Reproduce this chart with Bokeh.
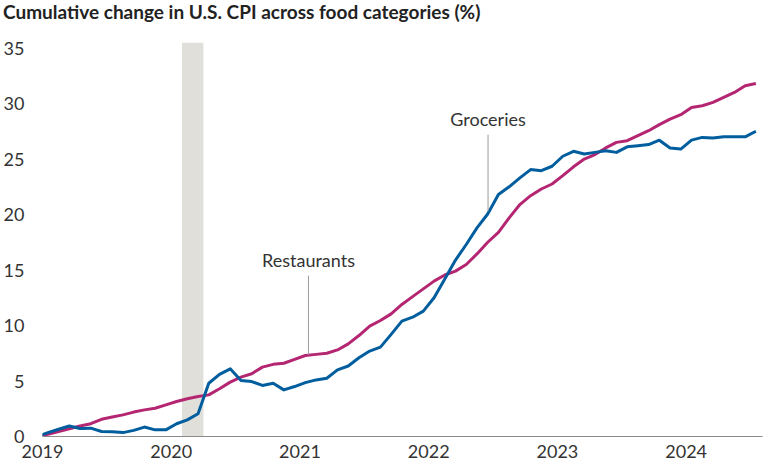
import pandas as pd
from bokeh.plotting import figure
from bokeh.layouts import column
from bokeh.models import BoxAnnotation, Label, FixedTicker, Range1d, Div
from bokeh.embed import file_html
from bokeh.resources import INLINE

# Monthly data, Dec 2018 (baseline) .. Jul 2024, cumulative % change
months = pd.date_range("2018-12-01", "2024-07-01", freq="MS")
groceries = [
    0, 0.35, 0.65, 0.95, 0.72, 0.75, 0.45, 0.42, 0.35, 0.55, 0.85, 0.6, 0.6,
    1.15, 1.5, 2.05, 4.8, 5.6, 6.1, 5.05, 4.95, 4.6, 4.8, 4.2, 4.5,
    4.85, 5.1, 5.25, 6.0, 6.35, 7.1, 7.7, 8.05, 9.2, 10.4, 10.75, 11.3,
    12.5, 14.2, 15.9, 17.3, 18.8, 20.05, 21.8, 22.5, 23.3, 24.05, 23.95, 24.35,
    25.25, 25.7, 25.45, 25.6, 25.75, 25.6, 26.1, 26.2, 26.3, 26.7, 26.0, 25.9,
    26.7, 26.95, 26.9, 27.0, 27.0, 27.0, 27.5,
]
restaurants = [
    0, 0.2, 0.45, 0.7, 0.95, 1.15, 1.55, 1.75, 1.95, 2.2, 2.4, 2.55, 2.85,
    3.15, 3.4, 3.6, 3.75, 4.3, 4.9, 5.35, 5.65, 6.25, 6.5, 6.6, 6.95,
    7.3, 7.4, 7.5, 7.8, 8.35, 9.1, 9.95, 10.45, 11.05, 11.9, 12.6, 13.3,
    14.0, 14.55, 14.9, 15.5, 16.45, 17.5, 18.4, 19.7, 20.9, 21.7, 22.3, 22.75,
    23.5, 24.3, 25.0, 25.4, 26.0, 26.5, 26.65, 27.1, 27.55, 28.1, 28.6, 29.0,
    29.65, 29.8, 30.1, 30.55, 31.0, 31.6, 31.8,
]
year_ticks = [2019, 2020, 2021, 2022, 2023, 2024]
y_ticks = [0, 5, 10, 15, 20, 25, 30, 35]
recession_start = "2020-02-01"
recession_end = "2020-04-01"
title_text = "Cumulative change in U.S. CPI across food categories (%)"

def frac_year(ts):
    return ts.year + (ts.month - 1) / 12.0

x = [m.year + (m.month - 0.5) / 12.0 for m in months]

FONT = "Lato"
BLUE = "#005E9E"
MAGENTA = "#B52672"
TEXT = "#333333"

W, H = 767, 466
TITLE_H = 26

title = Div(text=title_text, width=W, height=TITLE_H, margin=0,
            styles={"font-family": "Lato", "font-size": "19px",
                    "font-weight": "bold", "color": "#222222",
                    "line-height": "24px", "padding-left": "3px",
                    "white-space": "nowrap"})

p = figure(width=W, height=H - TITLE_H, output_backend="svg", toolbar_location=None,
           x_range=Range1d(2019.0, 2024.593), y_range=Range1d(0, 35.5),
           min_border_left=40, min_border_right=5, min_border_top=42 - TITLE_H,
           min_border_bottom=30, margin=0)
p.outline_line_color = None
p.background_fill_color = "white"
p.border_fill_color = "white"
p.grid.visible = False

band = BoxAnnotation(left=frac_year(pd.Timestamp(recession_start)),
                     right=frac_year(pd.Timestamp(recession_end)),
                     fill_color="#E0DFDA", fill_alpha=1.0, line_color=None,
                     level="underlay")
p.add_layout(band)

p.line(x, restaurants, line_color=MAGENTA, line_width=3, line_join="round")
p.line(x, groceries, line_color=BLUE, line_width=3, line_join="round")

# annotation leaders
rx = 2021.066
gx = 2022.461
p.segment(x0=[rx, gx], y0=[7.35, 20.3], x1=[rx, gx], y1=[14.5, 27.2],
          line_color="#9a9a9a", line_width=1)
p.add_layout(Label(x=rx, y=14.9, text="Restaurants", text_font=FONT,
                   text_font_size="18px", text_color=TEXT, text_align="center",
                   text_baseline="bottom"))
p.add_layout(Label(x=gx, y=27.6, text="Groceries", text_font=FONT,
                   text_font_size="18px", text_color=TEXT, text_align="center",
                   text_baseline="bottom"))

for ax in (p.xaxis, p.yaxis):
    ax.major_tick_out = 0
    ax.major_tick_in = 0
    ax.minor_tick_out = 0
    ax.minor_tick_in = 0
    ax.major_tick_line_color = None
    ax.minor_tick_line_color = None
    ax.major_label_text_font = FONT
    ax.major_label_text_font_size = "18px"
    ax.major_label_text_color = TEXT

p.xaxis.ticker = FixedTicker(ticks=year_ticks)
p.xaxis.axis_line_color = "#8a8a8a"
p.xaxis.axis_line_width = 1
p.xaxis.major_label_standoff = 8

p.yaxis.ticker = FixedTicker(ticks=y_ticks)
p.yaxis.axis_line_color = None
p.yaxis.major_label_standoff = 18

layout = column(title, p, spacing=0, margin=0)
open("out.html", "w").write(file_html(layout, INLINE))
